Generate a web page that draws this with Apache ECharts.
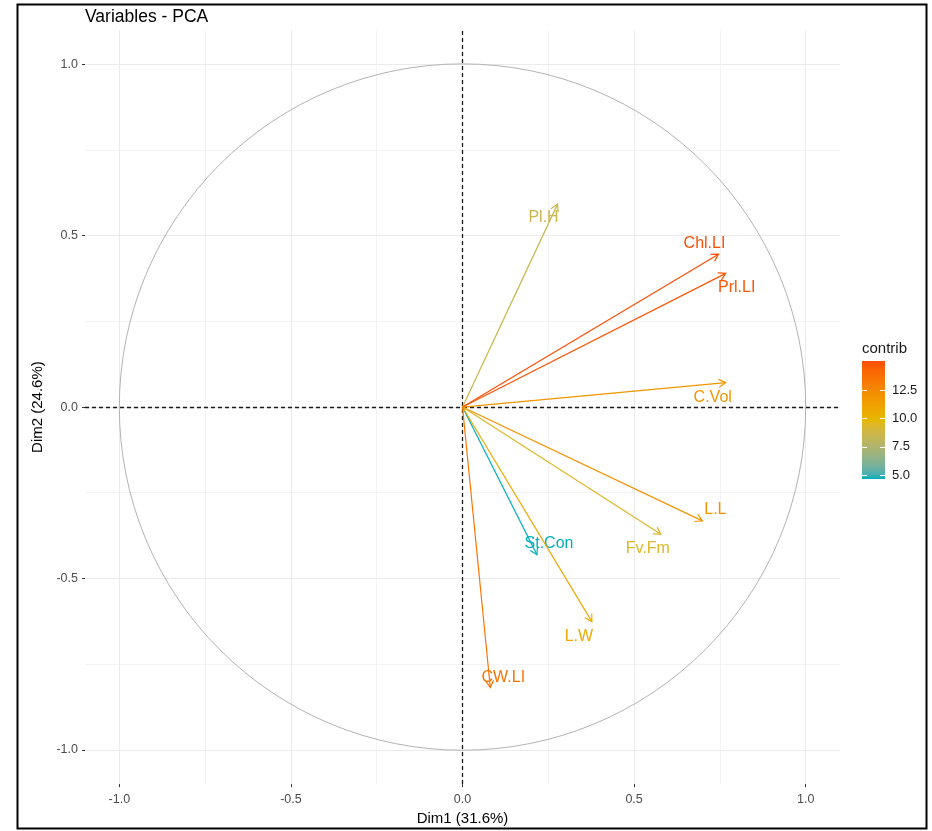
<!DOCTYPE html>
<html><head><meta charset="utf-8">
<script src="https://cdn.jsdelivr.net/npm/echarts@6/dist/echarts.min.js"></script>
<style>html,body{margin:0;padding:0;background:#fff}#c{width:932px;height:831px}</style>
</head><body><div id="c"></div>
<script>
// ---- data ----
const variables = ['Pl.H','Chl.LI','Prl.LI','C.Vol','L.L','Fv.Fm','St.Con','L.W','CW.LI'];
const dim1 = [0.277, 0.746, 0.767, 0.767, 0.699, 0.578, 0.217, 0.377, 0.081];
const dim2 = [0.592, 0.446, 0.390, 0.071, -0.332, -0.371, -0.431, -0.626, -0.818];
const contrib = [8.53, 15.09, 14.78, 11.85, 11.97, 9.43, 4.66, 10.67, 13.51];
const majorTicks = [-1, -0.5, 0, 0.5, 1];
const minorTicks = [-0.75, -0.25, 0.25, 0.75];
const legendTicks = [5, 7.5, 10, 12.5];
const gradientCols = ['#00AFBB', '#E7B800', '#FC4E07'];
// label placement offsets (px) relative to arrow tips (layout only)
const labelOffsets = [[-14,13],[-14,-11],[11,14],[-13,15],[13,-11],[-13,14],[12,-11],[-13,15],[13,-10]];

const FONT = "'Liberation Sans', Arial, sans-serif";

// ---- Lab colour interpolation (like ggplot gradientn) ----
function hex2rgb(h){h=h.replace('#','');return [0,2,4].map(i=>parseInt(h.substr(i,2),16));}
function s2l(c){c/=255;return c<=0.04045?c/12.92:Math.pow((c+0.055)/1.055,2.4);}
function l2s(c){c=c<=0.0031308?12.92*c:1.055*Math.pow(c,1/2.4)-0.055;return Math.round(Math.max(0,Math.min(1,c))*255);}
function rgb2lab(rgb){
  const r=s2l(rgb[0]),g=s2l(rgb[1]),b=s2l(rgb[2]);
  const X=(0.4124*r+0.3576*g+0.1805*b)/0.95047,Y=0.2126*r+0.7152*g+0.0722*b,Z=(0.0193*r+0.1192*g+0.9505*b)/1.08883;
  const f=t=>t>0.008856?Math.cbrt(t):7.787*t+16/116;
  return [116*f(Y)-16,500*(f(X)-f(Y)),200*(f(Y)-f(Z))];
}
function lab2hex(lab){
  const fy=(lab[0]+16)/116,fx=fy+lab[1]/500,fz=fy-lab[2]/200;
  const fi=t=>t>0.206893?t*t*t:(t-16/116)/7.787;
  const X=fi(fx)*0.95047,Y=fi(fy),Z=fi(fz)*1.08883;
  const r=3.2406*X-1.5372*Y-0.4986*Z,g=-0.9689*X+1.8758*Y+0.0415*Z,b=0.0557*X-0.2040*Y+1.0570*Z;
  return 'rgb('+l2s(r)+','+l2s(g)+','+l2s(b)+')';
}
const labCols = gradientCols.map(c=>rgb2lab(hex2rgb(c)));
const cMin = Math.min.apply(null, contrib), cMax = Math.max.apply(null, contrib);
function colorFor(v){
  let t=(v-cMin)/(cMax-cMin); t=Math.max(0,Math.min(1,t));
  const n=labCols.length-1; let k=Math.min(n-1,Math.floor(t*n)); const u=t*n-k;
  const a=labCols[k],b=labCols[k+1];
  return lab2hex([a[0]+(b[0]-a[0])*u,a[1]+(b[1]-a[1])*u,a[2]+(b[2]-a[2])*u]);
}

const chart = echarts.init(document.getElementById('c'), null, {renderer:'canvas'});

const gridLine = {show:true, lineStyle:{color:'#ebebeb', width:1}};
const minorLine = {show:true, lineStyle:{color:'#f0f0f0', width:0.8}};
const tickLabelStyle = {color:'#4d4d4d', fontSize:12.5, fontFamily:FONT, formatter:v=>Number(v).toFixed(1)};

const stops = [];
for (let k=0;k<=30;k++){ stops.push({offset:k/30, color:colorFor(cMax-(k/30)*(cMax-cMin))}); }

const option = {
  animation:false,
  backgroundColor:'#fff',
  title:{text:'Variables - PCA', left:80, top:3, textStyle:{fontSize:17.5, fontWeight:'normal', color:'#000', fontFamily:FONT}},
  graphic:[{type:'rect', left:15, top:2, shape:{width:909, height:824}, style:{stroke:'#000', fill:null, lineWidth:2}, silent:true}],
  grid:[
    {left:85, right:92, top:30, bottom:46},
    {left:862, top:361, width:23, height:118}
  ],
  xAxis:[
    {gridIndex:0, type:'value', min:-1.1, max:1.1, position:'bottom',
     name:'Dim1 (31.6%)', nameLocation:'middle', nameGap:26,
     nameTextStyle:{fontSize:15, color:'#000', fontFamily:FONT},
     axisLine:{show:false, onZero:false},
     axisTick:{show:true, length:3, customValues:majorTicks, lineStyle:{color:'#333'}},
     axisLabel:Object.assign({margin:9, customValues:majorTicks}, tickLabelStyle),
     splitLine:gridLine},
    {gridIndex:0, type:'value', min:-1.1, max:1.1, position:'top',
     axisLine:{show:false, onZero:false}, axisTick:{show:false, customValues:minorTicks},
     axisLabel:{show:false}, splitLine:minorLine},
    {gridIndex:1, type:'value', min:0, max:1, show:false}
  ],
  yAxis:[
    {gridIndex:0, type:'value', min:-1.1, max:1.1, position:'left',
     name:'Dim2 (24.6%)', nameLocation:'middle', nameGap:40,
     nameTextStyle:{fontSize:15, color:'#000', fontFamily:FONT},
     axisLine:{show:false, onZero:false},
     axisTick:{show:true, length:3, customValues:majorTicks, lineStyle:{color:'#333'}},
     axisLabel:Object.assign({margin:7, customValues:majorTicks}, tickLabelStyle),
     splitLine:gridLine},
    {gridIndex:0, type:'value', min:-1.1, max:1.1, position:'right',
     axisLine:{show:false, onZero:false}, axisTick:{show:false, customValues:minorTicks},
     axisLabel:{show:false}, splitLine:minorLine},
    {gridIndex:1, type:'value', min:cMin, max:cMax, position:'left', z:10,
     name:'contrib', nameLocation:'end', nameGap:5,
     nameTextStyle:{fontSize:15, color:'#1a1a1a', fontFamily:FONT, align:'left', verticalAlign:'bottom'},
     axisLine:{show:false, onZero:false},
     axisTick:{show:true, inside:true, length:5, customValues:legendTicks, lineStyle:{color:'#fff', width:1}},
     axisLabel:{show:false}, splitLine:{show:false}},
    {gridIndex:1, type:'value', min:cMin, max:cMax, position:'right', z:10,
     axisLine:{show:false, onZero:false},
     axisTick:{show:true, inside:true, length:5, customValues:legendTicks, lineStyle:{color:'#fff', width:1}},
     axisLabel:{show:true, margin:7, customValues:legendTicks, color:'#1a1a1a', fontSize:13, fontFamily:FONT, formatter:v=>Number(v).toFixed(1)},
     splitLine:{show:false}}
  ],
  series:[
    { // unit circle + zero lines
      type:'custom', xAxisIndex:0, yAxisIndex:0, z:2, silent:true,
      data:[[0,0]],
      renderItem:function(params, api){
        const c = api.coord([0,0]);
        const s = api.size([1,1]);
        return {type:'circle', shape:{cx:c[0], cy:c[1], r:s[0]}, style:{stroke:'#b3b3b3', fill:null, lineWidth:1}};
      },
      markLine:{silent:true, symbol:'none', label:{show:false}, animation:false,
        lineStyle:{type:[4,3], color:'#1a1a1a', width:1.3},
        data:[{xAxis:0},{yAxis:0}]}
    },
    { // arrows
      type:'custom', xAxisIndex:0, yAxisIndex:0, z:5, silent:true,
      data: variables.map((n,i)=>[dim1[i], dim2[i], contrib[i], i]),
      renderItem:function(params, api){
        const i = api.value(3);
        const p0 = api.coord([0,0]);
        const p1 = api.coord([api.value(0), api.value(1)]);
        const col = colorFor(api.value(2));
        const ang = Math.atan2(p1[1]-p0[1], p1[0]-p0[0]);
        const L = 8, a = Math.PI/6;
        const h1 = [p1[0]-L*Math.cos(ang-a), p1[1]-L*Math.sin(ang-a)];
        const h2 = [p1[0]-L*Math.cos(ang+a), p1[1]-L*Math.sin(ang+a)];
        const off = labelOffsets[i];
        return {type:'group', children:[
          {type:'line', shape:{x1:p0[0], y1:p0[1], x2:p1[0], y2:p1[1]}, style:{stroke:col, lineWidth:1.2}},
          {type:'polyline', shape:{points:[h1, p1, h2]}, style:{stroke:col, lineWidth:1.2, fill:null}},
          {type:'text', x:p1[0]+off[0], y:p1[1]+off[1],
           style:{text:variables[i], fill:col, fontSize:16, fontFamily:FONT, align:'center', verticalAlign:'middle'}}
        ]};
      }
    },
    { // colour bar
      type:'custom', xAxisIndex:2, yAxisIndex:2, z:2, silent:true,
      data:[[0, cMin, 1, cMax]],
      renderItem:function(params, api){
        const tl = api.coord([api.value(0), api.value(3)]);
        const br = api.coord([api.value(2), api.value(1)]);
        return {type:'rect', shape:{x:tl[0], y:tl[1], width:br[0]-tl[0], height:br[1]-tl[1]},
          style:{fill:{type:'linear', x:0, y:0, x2:0, y2:1, colorStops:stops}}};
      }
    }
  ]
};
chart.setOption(option);
</script>
</body></html>
